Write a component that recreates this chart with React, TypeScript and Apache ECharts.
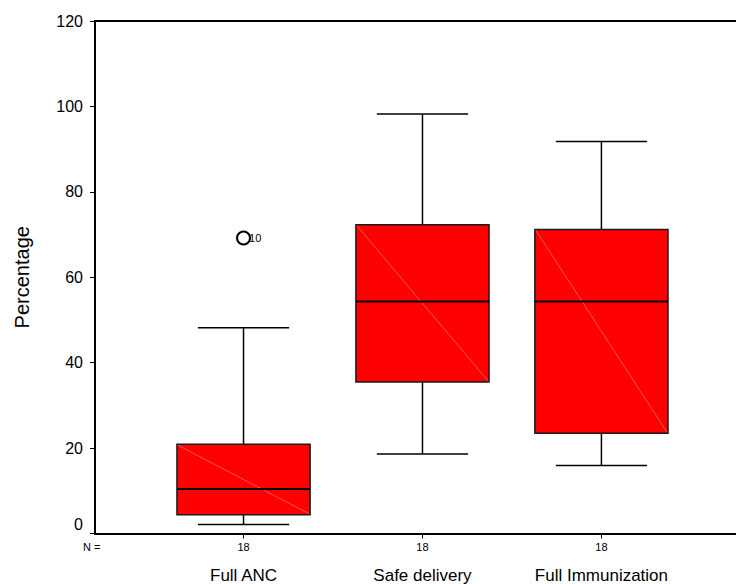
import React, { useEffect, useRef } from "react";
import * as echarts from "echarts";

const categories = ["Full ANC", "Safe delivery", "Full Immunization"];
const nCounts = [18, 18, 18];
const lowerWhisker = [2.1, 18.6, 15.9];
const q1 = [4.4, 35.5, 23.5];
const median = [10.4, 54.3, 54.3];
const q3 = [20.9, 72.3, 71.2];
const upperWhisker = [48.2, 98.2, 91.8];
const outlierCategory = [0];
const outlierValue = [69.2];
const outlierLabel = ["10"];
const yTicks = [0, 20, 40, 60, 80, 100, 120];

const FONT = "'Liberation Sans', Arial, Helvetica, sans-serif";

export default function App() {
  const ref = useRef<HTMLDivElement>(null);
  useEffect(() => {
    if (!ref.current) return;
    const chart = echarts.init(ref.current, null, { renderer: "svg" });
    const boxData = categories.map((_, i) => [
      i + 1,
      lowerWhisker[i],
      q1[i],
      median[i],
      q3[i],
      upperWhisker[i],
    ]);
    const outData = outlierCategory.map((c, i) => [c + 1, outlierValue[i], outlierLabel[i]]);
    const xMin = 0.17;
    const xMax = 3.752;
    const boxHalf = 0.372;
    const capHalf = 0.255;
    const option: any = {
      animation: false,
      backgroundColor: "#ffffff",
      textStyle: { fontFamily: FONT },
      grid: { left: 95, right: 0, top: 21, bottom: 50, containLabel: false },
      xAxis: [
        {
          type: "value",
          min: xMin,
          max: xMax,
          position: "bottom",
          splitLine: { show: false },
          axisLine: { show: true, lineStyle: { color: "#000", width: 2 } },
          axisTick: {
            show: true,
            customValues: [1, 2, 3],
            length: 5,
            lineStyle: { color: "#000", width: 1 },
          },
          axisLabel: {
            show: true,
            customValues: [1, 2, 3],
            margin: 6,
            color: "#000",
            fontFamily: FONT,
            formatter: (v: number) => {
              const i = Math.round(v) - 1;
              return `{n|${nCounts[i]}}\n{c|${categories[i]}}`;
            },
            rich: {
              n: { fontSize: 11, lineHeight: 14, color: "#000", fontFamily: FONT },
              c: { fontSize: 17, lineHeight: 44, color: "#000", fontFamily: FONT },
            },
          },
        },
        {
          type: "value",
          min: xMin,
          max: xMax,
          position: "top",
          splitLine: { show: false },
          axisLine: { show: true, onZero: false, lineStyle: { color: "#000", width: 2 } },
          axisTick: { show: false },
          axisLabel: { show: false },
        },
      ],
      yAxis: {
        type: "value",
        min: 0,
        max: 120,
        interval: 20,
        name: "Percentage",
        nameLocation: "middle",
        nameRotate: 90,
        nameGap: 63,
        nameTextStyle: { fontSize: 20, color: "#000", fontFamily: FONT },
        splitLine: { show: false },
        axisLine: { show: true, lineStyle: { color: "#000", width: 2 } },
        axisTick: { show: true, length: 5, lineStyle: { color: "#000", width: 1 } },
        axisLabel: {
          color: "#000",
          fontSize: 16,
          margin: 12,
          fontFamily: FONT,
          customValues: yTicks,
          formatter: (v: number) => (v === 0 ? "{z|0}" : String(v)),
          rich: { z: { fontSize: 16, color: "#000", padding: [0, 0, 18, 0], fontFamily: FONT } },
        },
      },
      series: [
        {
          type: "custom",
          xAxisIndex: 0,
          data: boxData,
          renderItem: (params: any, api: any) => {
            const x = api.value(0);
            const lw = api.value(1);
            const b1 = api.value(2);
            const md = api.value(3);
            const b3 = api.value(4);
            const uw = api.value(5);
            const tl = api.coord([x - boxHalf, b3]);
            const br = api.coord([x + boxHalf, b1]);
            const cTop = api.coord([x, uw]);
            const cBot = api.coord([x, lw]);
            const capL = api.coord([x - capHalf, uw]);
            const capR = api.coord([x + capHalf, uw]);
            const capL2 = api.coord([x - capHalf, lw]);
            const capR2 = api.coord([x + capHalf, lw]);
            const mL = api.coord([x - boxHalf, md]);
            const mR = api.coord([x + boxHalf, md]);
            const lineStyle = { stroke: "#000", lineWidth: 1.5 };
            return {
              type: "group",
              children: [
                { type: "line", shape: { x1: cTop[0], y1: cTop[1], x2: cTop[0], y2: tl[1] }, style: lineStyle },
                { type: "line", shape: { x1: cBot[0], y1: br[1], x2: cBot[0], y2: cBot[1] }, style: lineStyle },
                { type: "line", shape: { x1: capL[0], y1: capL[1], x2: capR[0], y2: capR[1] }, style: lineStyle },
                { type: "line", shape: { x1: capL2[0], y1: capL2[1], x2: capR2[0], y2: capR2[1] }, style: lineStyle },
                {
                  type: "rect",
                  shape: { x: tl[0], y: tl[1], width: br[0] - tl[0], height: br[1] - tl[1] },
                  style: { fill: "#ff0000", stroke: "#1a1a1a", lineWidth: 1.5 },
                },
                {
                  type: "line",
                  shape: { x1: tl[0] + 1, y1: tl[1] + 1, x2: br[0] - 1, y2: br[1] - 1 },
                  style: { stroke: "#ff8a8a", lineWidth: 0.6 },
                },
                { type: "line", shape: { x1: mL[0], y1: mL[1], x2: mR[0], y2: mR[1] }, style: { stroke: "#000", lineWidth: 2 } },
              ],
            };
          },
          z: 2,
        },
        {
          type: "scatter",
          xAxisIndex: 0,
          data: outData,
          symbol: "circle",
          symbolSize: 13,
          itemStyle: { color: "#fff", borderColor: "#000", borderWidth: 2, opacity: 1 },
          label: {
            show: true,
            position: "right",
            distance: -2,
            formatter: (p: any) => p.data[2],
            fontSize: 11,
            color: "#000",
            fontFamily: FONT,
          },
          z: 3,
        },
      ],
      graphic: [
        {
          type: "text",
          left: 83,
          top: 541,
          style: { text: "N =", fontSize: 11, fill: "#000", fontFamily: FONT },
        },
      ],
    };
    chart.setOption(option);
    return () => chart.dispose();
  }, []);
  return (
    <div
      ref={ref}
      style={{ position: "fixed", left: 0, top: 0, width: 736, height: 584, background: "#fff" }}
    />
  );
}
